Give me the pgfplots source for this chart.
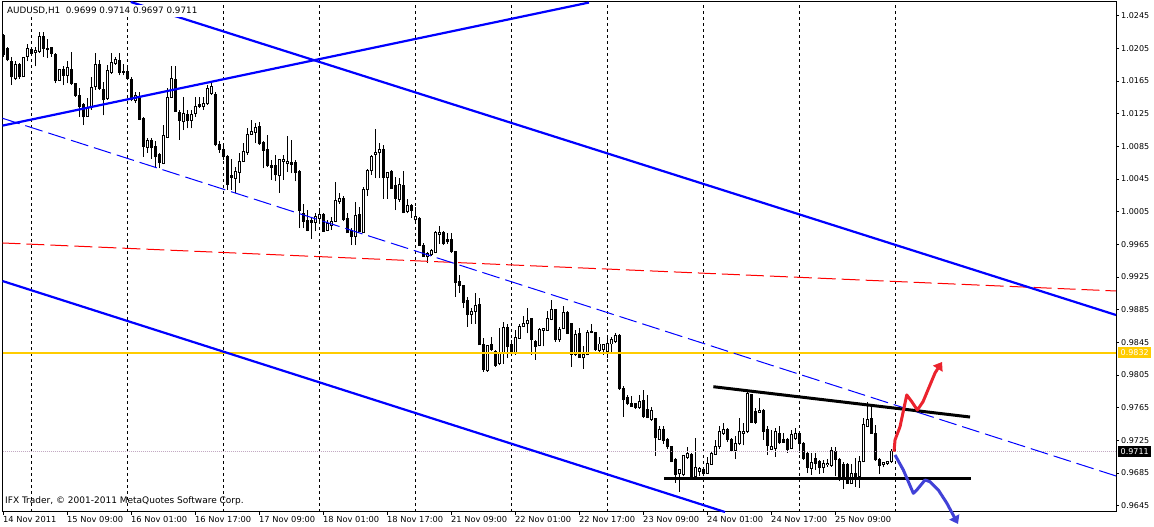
\documentclass[border=0pt]{standalone}
\usepackage{fontspec}
\setmainfont{DejaVu Sans}
\usepackage{pgfplots}
\pgfplotsset{compat=1.18}
\usepackage{pgfplotstable}
\usetikzlibrary{arrows.meta}

\definecolor{mtblue}{RGB}{0,0,255}
\definecolor{mtred}{RGB}{255,0,0}
\definecolor{mtgold}{RGB}{255,204,0}
\definecolor{arrowred}{RGB}{235,35,45}
\definecolor{arrowblue}{RGB}{65,65,215}
\definecolor{pricegray}{RGB}{195,170,195}

\pgfplotstableread{
i o h l c
0 1.0221 1.0223 1.0195 1.0197
1 1.0205 1.0207 1.0189 1.0191
2 1.0189 1.0195 1.0160 1.0170
3 1.0168 1.0189 1.0166 1.0185
4 1.0185 1.0187 1.0168 1.0170
5 1.0170 1.0195 1.0170 1.0194
6 1.0195 1.0210 1.0189 1.0205
7 1.0204 1.0205 1.0197 1.0199
8 1.0200 1.0207 1.0183 1.0202
9 1.0201 1.0225 1.0199 1.0220
10 1.0219 1.0225 1.0195 1.0205
11 1.0205 1.0217 1.0193 1.0203
12 1.0206 1.0207 1.0195 1.0199
13 1.0197 1.0199 1.0162 1.0166
14 1.0166 1.0179 1.0165 1.0179
15 1.0179 1.0183 1.0160 1.0172
16 1.0172 1.0189 1.0162 1.0181
17 1.0179 1.0201 1.0160 1.0162
18 1.0162 1.0163 1.0146 1.0147
19 1.0147 1.0156 1.0121 1.0134
20 1.0136 1.0138 1.0111 1.0121
21 1.0122 1.0144 1.0121 1.0133
22 1.0132 1.0170 1.0130 1.0157
23 1.0158 1.0199 1.0154 1.0185
24 1.0185 1.0191 1.0154 1.0156
25 1.0155 1.0164 1.0123 1.0142
26 1.0143 1.0185 1.0142 1.0178
27 1.0176 1.0199 1.0174 1.0188
28 1.0187 1.0195 1.0185 1.0191
29 1.0190 1.0199 1.0172 1.0176
30 1.0176 1.0186 1.0172 1.0177
31 1.0177 1.0181 1.0166 1.0168
32 1.0167 1.0170 1.0140 1.0142
33 1.0141 1.0152 1.0138 1.0147
34 1.0145 1.0152 1.0117 1.0118
35 1.0119 1.0121 1.0072 1.0085
36 1.0084 1.0095 1.0077 1.0092
37 1.0092 1.0095 1.0070 1.0083
38 1.0085 1.0091 1.0060 1.0072
39 1.0075 1.0077 1.0058 1.0065
40 1.0064 1.0111 1.0063 1.0098
41 1.0096 1.0156 1.0095 1.0145
42 1.0145 1.0183 1.0144 1.0168
43 1.0167 1.0183 1.0128 1.0128
44 1.0126 1.0130 1.0093 1.0117
45 1.0115 1.0146 1.0105 1.0125
46 1.0124 1.0130 1.0107 1.0117
47 1.0117 1.0130 1.0107 1.0124
48 1.0125 1.0145 1.0121 1.0134
49 1.0136 1.0146 1.0132 1.0134
50 1.0134 1.0145 1.0130 1.0138
51 1.0137 1.0160 1.0136 1.0156
52 1.0150 1.0162 1.0148 1.0158
53 1.0149 1.0151 1.0085 1.0087
54 1.0087 1.0091 1.0077 1.0081
55 1.0081 1.0085 1.0068 1.0072
56 1.0073 1.0074 1.0032 1.0038
57 1.0049 1.0069 1.0032 1.0047
58 1.0046 1.0060 1.0028 1.0054
59 1.0053 1.0077 1.0040 1.0067
60 1.0067 1.0089 1.0066 1.0079
61 1.0077 1.0107 1.0075 1.0099
62 1.0100 1.0117 1.0099 1.0103
63 1.0102 1.0113 1.0089 1.0108
64 1.0109 1.0115 1.0087 1.0088
65 1.0090 1.0091 1.0058 1.0080
66 1.0081 1.0099 1.0060 1.0061
67 1.0061 1.0068 1.0044 1.0059
68 1.0061 1.0075 1.0042 1.0050
69 1.0049 1.0070 1.0028 1.0069
70 1.0067 1.0075 1.0044 1.0069
71 1.0064 1.0098 1.0054 1.0066
72 1.0065 1.0093 1.0052 1.0063
73 1.0065 1.0068 1.0042 1.0053
74 1.0054 1.0056 0.9985 1.0007
75 1.0003 1.0015 0.9985 0.9993
76 0.9994 1.0007 0.9981 0.9982
77 0.9994 0.9997 0.9972 0.9992
78 0.9992 1.0003 0.9981 0.9999
79 0.9997 1.0009 0.9993 1.0002
80 1.0001 1.0003 0.9981 0.9981
81 0.9982 0.9995 0.9981 0.9990
82 0.9988 0.9999 0.9983 0.9993
83 0.9993 1.0041 0.9992 1.0019
84 1.0017 1.0028 1.0015 1.0021
85 1.0021 1.0024 0.9993 0.9996
86 0.9997 1.0003 0.9979 0.9979
87 0.9982 0.9985 0.9964 0.9975
88 0.9975 1.0017 0.9964 1.0000
89 1.0001 1.0011 0.9981 0.9981
90 0.9979 1.0035 0.9979 1.0032
91 1.0032 1.0057 1.0024 1.0055
92 1.0055 1.0075 1.0050 1.0073
93 1.0075 1.0106 1.0046 1.0077
94 1.0077 1.0089 1.0046 1.0081
95 1.0081 1.0087 1.0021 1.0047
96 1.0047 1.0054 1.0021 1.0053
97 1.0054 1.0056 1.0034 1.0034
98 1.0037 1.0048 1.0007 1.0021
99 1.0020 1.0046 1.0017 1.0038
100 1.0037 1.0055 1.0003 1.0004
101 1.0005 1.0020 1.0003 1.0013
102 1.0013 1.0015 0.9997 1.0007
103 0.9995 1.0011 0.9991 0.9999
104 0.9997 0.9999 0.9964 0.9964
105 0.9964 0.9967 0.9950 0.9950
106 0.9950 0.9956 0.9942 0.9954
107 0.9952 0.9959 0.9951 0.9957
108 0.9955 0.9981 0.9954 0.9979
109 0.9977 0.9987 0.9966 0.9979
110 0.9979 0.9981 0.9964 0.9966
111 0.9971 0.9979 0.9966 0.9968
112 0.9971 0.9979 0.9955 0.9956
113 0.9956 0.9956 0.9901 0.9918
114 0.9920 0.9928 0.9906 0.9915
115 0.9915 0.9915 0.9887 0.9894
116 0.9896 0.9901 0.9864 0.9879
117 0.9879 0.9887 0.9868 0.9883
118 0.9883 0.9906 0.9868 0.9890
119 0.9891 0.9899 0.9842 0.9842
120 0.9842 0.9850 0.9809 0.9812
121 0.9810 0.9842 0.9809 0.9841
122 0.9842 0.9852 0.9834 0.9836
123 0.9834 0.9836 0.9815 0.9817
124 0.9819 0.9862 0.9817 0.9832
125 0.9832 0.9870 0.9819 0.9863
126 0.9863 0.9868 0.9826 0.9840
127 0.9842 0.9848 0.9828 0.9832
128 0.9832 0.9860 0.9830 0.9851
129 0.9850 0.9868 0.9850 0.9864
130 0.9865 0.9877 0.9864 0.9868
131 0.9868 0.9887 0.9856 0.9872
132 0.9874 0.9874 0.9830 0.9848
133 0.9846 0.9848 0.9824 0.9840
134 0.9841 0.9862 0.9840 0.9861
135 0.9860 0.9862 0.9840 0.9862
136 0.9860 0.9883 0.9859 0.9874
137 0.9873 0.9897 0.9872 0.9885
138 0.9885 0.9885 0.9846 0.9848
139 0.9848 0.9864 0.9846 0.9861
140 0.9862 0.9890 0.9861 0.9881
141 0.9881 0.9883 0.9855 0.9856
142 0.9868 0.9868 0.9815 0.9830
143 0.9830 0.9860 0.9828 0.9855
144 0.9856 0.9862 0.9826 0.9827
145 0.9826 0.9840 0.9813 0.9830
146 0.9830 0.9860 0.9829 0.9857
147 0.9857 0.9868 0.9856 0.9858
148 0.9857 0.9858 0.9835 0.9836
149 0.9835 0.9851 0.9831 0.9843
150 0.9836 0.9843 0.9830 0.9842
151 0.9834 0.9851 0.9826 0.9844
152 0.9843 0.9852 0.9831 0.9848
153 0.9846 0.9856 0.9844 0.9853
154 0.9854 0.9855 0.9787 0.9788
155 0.9788 0.9791 0.9754 0.9775
156 0.9777 0.9781 0.9768 0.9770
157 0.9770 0.9779 0.9766 0.9767
158 0.9770 0.9770 0.9764 0.9765
159 0.9765 0.9781 0.9764 0.9773
160 0.9774 0.9787 0.9753 0.9754
161 0.9763 0.9781 0.9752 0.9753
162 0.9751 0.9766 0.9749 0.9762
163 0.9752 0.9753 0.9706 0.9728
164 0.9726 0.9742 0.9726 0.9738
165 0.9738 0.9742 0.9721 0.9725
166 0.9726 0.9728 0.9714 0.9717
167 0.9717 0.9717 0.9698 0.9699
168 0.9701 0.9703 0.9673 0.9683
169 0.9684 0.9689 0.9662 0.9689
170 0.9683 0.9707 0.9681 0.9706
171 0.9704 0.9717 0.9702 0.9709
172 0.9708 0.9709 0.9680 0.9681
173 0.9681 0.9728 0.9681 0.9692
174 0.9687 0.9693 0.9681 0.9691
175 0.9689 0.9693 0.9681 0.9684
176 0.9685 0.9705 0.9684 0.9697
177 0.9696 0.9711 0.9695 0.9709
178 0.9708 0.9726 0.9707 0.9717
179 0.9717 0.9742 0.9715 0.9736
180 0.9734 0.9746 0.9732 0.9738
181 0.9738 0.9740 0.9723 0.9726
182 0.9726 0.9728 0.9711 0.9712
183 0.9712 0.9730 0.9702 0.9721
184 0.9721 0.9752 0.9719 0.9736
185 0.9734 0.9746 0.9719 0.9736
186 0.9736 0.9786 0.9734 0.9783
187 0.9781 0.9782 0.9746 0.9747
188 0.9760 0.9765 0.9745 0.9747
189 0.9759 0.9777 0.9758 0.9762
190 0.9762 0.9764 0.9726 0.9736
191 0.9738 0.9742 0.9707 0.9719
192 0.9714 0.9738 0.9713 0.9718
193 0.9715 0.9740 0.9705 0.9736
194 0.9734 0.9742 0.9721 0.9722
195 0.9726 0.9734 0.9722 0.9723
196 0.9726 0.9728 0.9710 0.9714
197 0.9715 0.9738 0.9714 0.9732
198 0.9727 0.9740 0.9726 0.9734
199 0.9733 0.9734 0.9710 0.9721
200 0.9721 0.9723 0.9701 0.9703
201 0.9709 0.9711 0.9685 0.9692
202 0.9691 0.9709 0.9683 0.9698
203 0.9703 0.9709 0.9689 0.9697
204 0.9699 0.9701 0.9684 0.9692
205 0.9692 0.9701 0.9685 0.9697
206 0.9695 0.9702 0.9693 0.9697
207 0.9694 0.9717 0.9693 0.9712
208 0.9711 0.9717 0.9681 0.9702
209 0.9702 0.9703 0.9675 0.9681
210 0.9696 0.9699 0.9666 0.9677
211 0.9695 0.9697 0.9672 0.9672
212 0.9672 0.9696 0.9672 0.9685
213 0.9685 0.9703 0.9668 0.9681
214 0.9681 0.9706 0.9667 0.9699
215 0.9699 0.9752 0.9698 0.9745
216 0.9742 0.9772 0.9741 0.9751
217 0.9752 0.9767 0.9733 0.9734
218 0.9734 0.9744 0.9700 0.9701
219 0.9702 0.9703 0.9684 0.9694
220 0.9696 0.9699 0.9692 0.9698
221 0.9697 0.9699 0.9695 0.9699
222 0.9699 0.9714 0.9697 0.9711
}\candles

\begin{document}
\begin{tikzpicture}[font=\fontsize{8}{9.6}\selectfont]
\begin{axis}[
  at={(2.5pt,15pt)}, anchor=south west,
  scale only axis, width=1113.5pt, height=510pt,
  xmin=-0.125, xmax=278.25, ymin=0.96373, ymax=1.026175,
  clip=false,
  axis line style={black, line width=1pt},
  tick style={black, line width=1pt},
  tick align=outside, major tick length=3pt,
  xtick pos=left, ytick pos=right, yticklabel pos=right,
  xtick={0,16,32,48,64,80,96,112,128,144,160,176,192,208},
  xticklabels={14 Nov 2011,15 Nov 09:00,16 Nov 01:00,16 Nov 17:00,17 Nov 09:00,18 Nov 01:00,18 Nov 17:00,21 Nov 09:00,22 Nov 01:00,22 Nov 17:00,23 Nov 09:00,24 Nov 01:00,24 Nov 17:00,25 Nov 09:00},
  ytick={0.9645,0.9685,0.9725,0.9765,0.9805,0.9845,0.9885,0.9925,0.9965,1.0005,1.0045,1.0085,1.0125,1.0165,1.0205,1.0245},
  scaled y ticks=false,
  /pgf/number format/assume math mode=true,
  yticklabel style={/pgf/number format/fixed, /pgf/number format/fixed zerofill, /pgf/number format/precision=4, anchor=west, inner sep=0pt, xshift=2pt, font=\fontsize{8}{9.6}\selectfont},
  xticklabel style={anchor=north west, inner sep=0pt, yshift=-1pt, font=\fontsize{8.3}{9.6}\selectfont},
  extra x ticks={7,31,55,79,103,127,151,175,199,223},
  extra x tick labels={},
  extra x tick style={grid=major, major tick length=0pt, major grid style={black, line width=1pt, dash pattern=on 3pt off 3pt}},
]
% wicks
\addplot[black, line width=1pt, no markers, quiver={u=0, v={\thisrow{h}-\thisrow{l}}}] table[x=i, y=l]{\candles};
% body outlines / bear bodies
\addplot[black, line width=3pt, no markers, quiver={u=0, v={abs(\thisrow{c}-\thisrow{o})+0.000122}}] table[x=i, y expr={min(\thisrow{o},\thisrow{c})-0.000061}]{\candles};
% bull interiors
\addplot[white, line width=1pt, no markers, quiver={u=0, v={max(\thisrow{c}-\thisrow{o}-0.000122,0)}}] table[x=i, y expr={\thisrow{o}+0.000061}]{\candles};

% horizontal levels
\addplot[pricegray, line width=1pt, dash pattern=on 1pt off 1pt] coordinates {(-0.125,0.9711) (278.25,0.9711)};
\addplot[mtgold, line width=2pt] coordinates {(-0.125,0.9832) (278.25,0.9832)};
% dashed lines
\addplot[mtred, line width=1pt, dash pattern=on 18pt off 6pt] coordinates {(-0.125,0.99667) (278.25,0.99079)};
\addplot[mtblue, line width=1pt, dash pattern=on 18pt off 6pt] coordinates {(-0.125,1.01194) (278.25,0.96814)};
% channel lines
\addplot[mtblue, line width=2.2pt] coordinates {(-0.125,1.01104) (146.5,1.02611)};
\addplot[mtblue, line width=2.2pt] coordinates {(31.95,1.026175) (278.25,0.98785)};
\addplot[mtblue, line width=2.2pt] coordinates {(-0.125,0.99201) (180.5,0.96373)};
% triangle
\addplot[black, line width=3pt] coordinates {(177.58,0.97907) (241.75,0.97536)};
\addplot[black, line width=3.5pt] coordinates {(165.33,0.96786) (241.93,0.96786)};
% hand-drawn arrows
\addplot[arrowred, line width=3pt, line join=round, -{Triangle[length=8pt,width=11pt]}] coordinates {(222.75,0.97111) (223.0,0.97255) (224.25,0.97418) (225.93,0.97806) (227.18,0.97724) (228.58,0.97622) (230.0,0.97724) (233.0,0.98075) (234.75,0.98210)};
\addplot[arrowblue, line width=3pt, line join=round, -{Triangle[length=8pt,width=11pt]}] coordinates {(223.0,0.97071) (225.08,0.96887) (227.58,0.96602) (228.43,0.96642) (230.5,0.96765) (231.75,0.96744) (233.83,0.96642) (235.93,0.96483) (238.75,0.96226)};
\end{axis}
% header and footer texts
\node[anchor=base west, fill=white, inner xsep=2pt, inner ysep=2pt, font=\fontsize{8.8}{10.4}\selectfont] at (5pt,513pt) {AUDUSD,H1\ \ 0.9699 0.9714 0.9697 0.9711};
\node[anchor=base west, inner sep=0pt, font=\fontsize{9}{10.8}\selectfont] at (5pt,23pt) {IFX Trader, © 2001-2011 MetaQuotes Software Corp.};
% price labels
\node[anchor=west, fill=mtgold, text=white, inner xsep=2.5pt, inner ysep=1.5pt, minimum height=11pt] at (1118pt,174.5pt) {0.9832};
\node[anchor=west, fill=black, text=white, inner xsep=2.5pt, inner ysep=1.5pt, minimum height=11pt] at (1118pt,75.2pt) {0.9711};
\pgfresetboundingbox
\path[use as bounding box] (0,0) rectangle (1154pt,527pt);
\end{tikzpicture}
\end{document}
